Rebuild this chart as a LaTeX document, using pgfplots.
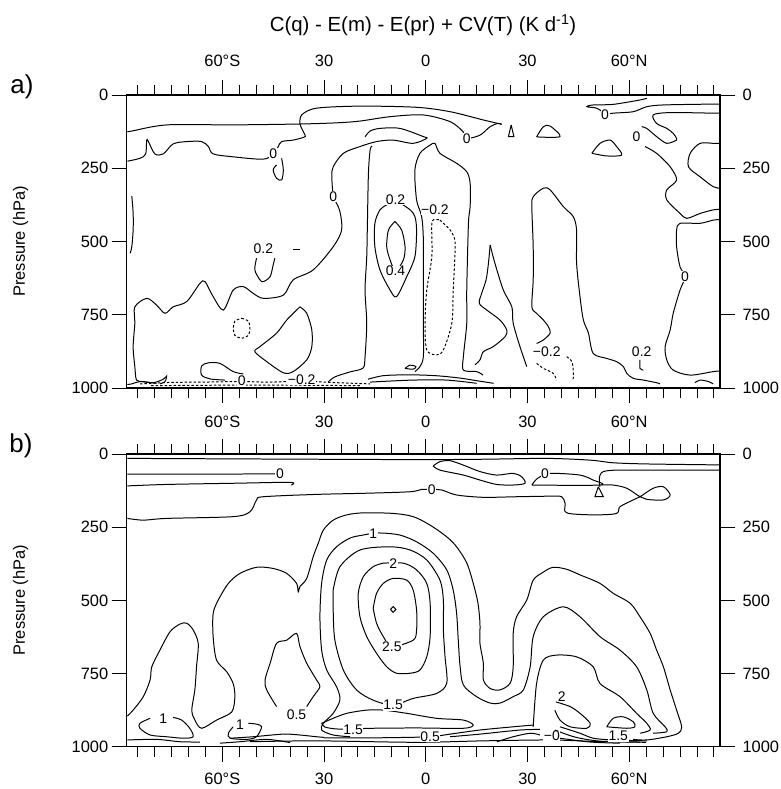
\documentclass[border=0pt]{standalone}
\usepackage{fontspec}
\setmainfont{Liberation Sans}
\usepackage{pgfplots}
\pgfplotsset{compat=1.18}
\tikzset{lab/.style={fill=white, inner sep=0.6pt, font=\fontsize{14}{14}\selectfont}}
\begin{document}
\begin{tikzpicture}
\useasboundingbox (0bp,0bp) rectangle (781bp,789bp);
\pgfplotsset{
  panel/.style={
    scale only axis, width=593.3bp, height=293bp,
    xmin=-88.2, xmax=86.8, ymin=0, ymax=1000, y dir=reverse,
    xtick={-60,-30,0,30,60}, minor xtick={-85,-80,...,85},
    ytick={0,250,500,750,1000},
    tick align=outside, major tick length=15bp, minor tick length=10bp,
    every tick/.style={black, line width=0.9pt},
    axis line style={line width=1.5pt},
    tick label style={font=\fontsize{16.5}{17}\selectfont},
    xticklabels={60°S,30,0,30,60°N},
    yticklabels={0,250,500,750,1000},
    clip=false,
  },
  cl/.style={black, line width=1pt, smooth, tension=0.5, mark=none},
  cs/.style={black, line width=1pt, sharp plot, mark=none},
  cd/.style={cl, dash pattern=on 2.5pt off 2pt},
}
\node[font=\fontsize{20.5}{21}\selectfont] at (423bp,764bp) {C(q) - E(m) - E(pr) + CV(T) (K d\textsuperscript{-1})};
\node[font=\fontsize{26}{26}\selectfont] at (22bp,702bp) {a)};
\node[font=\fontsize{26}{26}\selectfont] at (21bp,343bp) {b)};
\node[rotate=90, font=\fontsize{16.5}{17}\selectfont] at (20.5bp,547.5bp) {Pressure (hPa)};
\node[rotate=90, font=\fontsize{16.5}{17}\selectfont] at (20.5bp,188.7bp) {Pressure (hPa)};

% ---------------- panel a ----------------
\begin{axis}[panel, at={(126.7bp,401bp)}, anchor=south west,
  xticklabel pos=upper, yticklabel pos=lower, xtick pos=both, ytick pos=both,
  xticklabel style={yshift=10bp}]
\addplot[cl] coordinates {(-88,125) (-86.7,123) (-76.3,102) (-56.8,102) (-37.1,99) (-26.3,95) (-19.4,89) (-10.5,74) (-0.8,68) (7.2,91) (11,125) (12.1,148) (16,137) (19,108) (21.3,97) (22.4,100)};
\addplot[cl] coordinates {(-37.1,99) (-36.6,68) (-32.2,45) (-19.4,38) (-2.7,42) (7.2,57) (16.9,85) (22.4,100)};
\addplot[cl] coordinates {(-37.1,99) (-36.6,114) (-35.6,137) (-35.9,144) (-39.1,154) (-42.5,159) (-43.5,176) (-45,201) (-47.9,219) (-56.8,211) (-62.7,201) (-64.1,176) (-66.1,159) (-70.5,159) (-74.5,167) (-77.4,201) (-79.9,201) (-81.8,159) (-82.3,154) (-82.6,201) (-84.3,216) (-88,226)};
\addplot[cl] coordinates {(-42.5,216) (-42,256) (-42.5,290) (-44,284) (-45,256) (-44,239)};
\addplot[cl] coordinates {(65.2,11) (63.2,17) (55.3,32) (49.4,34) (47.5,40) (50.4,45) (52.4,60) (52.9,66) (55.3,62) (61.2,57) (65.2,40) (70.1,34) (84.8,31) (86.8,31)};
\addplot[cl] coordinates {(63.7,108) (65.2,114) (68.1,142) (71.1,165) (74,154)};
\addplot[cl] coordinates {(86.8,62) (84.8,62) (72.1,60) (67.1,68) (68.1,97) (71.1,114) (73,131) (74,148) (74,154)};
\addplot[cl] coordinates {(64.7,176) (68.1,199) (72.1,245) (74,290) (71.1,324) (71.1,358) (75,404) (77,421) (81,404) (84.8,392) (86.8,390)};
\addplot[cl] coordinates {(86.8,165) (84.8,165) (80.9,165) (78,199) (77.5,245) (80.9,279) (84.8,313) (86.8,318)};
\addplot[cl] coordinates {(86.8,425) (84.8,427) (80.9,438) (75,438) (74,461) (74,518) (75,586) (76.5,620) (75,666) (73,745) (72.1,802) (70.6,859) (71.1,904) (73,939) (78,956) (84.8,944) (86.8,942)};
\addplot[cs] coordinates {(25.2,102) (24.4,142) (26,142) (25.2,102)};
\addplot[cl] coordinates {(32.7,143) (34.7,108) (36.7,106) (39.6,142) (32.7,143)};
\addplot[cl] coordinates {(49,199) (51.4,165) (54.4,154) (56.3,176) (57.8,205) (53.4,208) (49,199)};
% big left zero contour
\addplot[cl] coordinates {(-79.4,984) (-83.3,978) (-85.3,973) (-85.8,927) (-86.3,859) (-85.8,779) (-85.8,723) (-82.3,694) (-79.4,717) (-76.9,745) (-74.5,723) (-70.5,705) (-66.6,643) (-65.1,637) (-62.7,688) (-59.7,734) (-56.8,666) (-53.8,654) (-50.9,677) (-47.9,694) (-42,683) (-39.1,631) (-33.2,597) (-27.3,518) (-24.8,461) (-25.3,398) (-26.8,358) (-27.3,347) (-27.7,279) (-27.3,245) (-24.3,199) (-19.4,176) (-14.5,159) (-9.6,154) (-3.7,165) (0.3,148) (-0.7,142) (-7.6,114) (-13.5,114) (-16.4,123) (-17.9,143)};
\addplot[cl] coordinates {(-15.8,174) (-16.4,188) (-16.9,267) (-17.2,438) (-17.4,552) (-17.9,666) (-17.4,779) (-17.9,893) (-18.5,932) (-22.3,945) (-26.8,962) (-28.8,980)};
\addplot[cl] coordinates {(-16.4,980) (-13.5,978) (-3.7,973) (6.2,973) (15,984)};
\addplot[cl] coordinates {(-17,970) (-12.5,958) (-5,955) (3,958) (10,966) (15,975) (20,984)};
% 0.2 / 0.4 / -0.2 centre
\addplot[cl] coordinates {(-8.9,358) (-4.6,392) (-3.2,415) (-2.7,461) (-3.2,552) (-5.6,620) (-8.6,688) (-10.5,666) (-13.5,597) (-15,518) (-15,438) (-13.5,392) (-11.5,375) (-8.9,358)};
\addplot[cl] coordinates {(-9.1,432) (-7.1,461) (-6.1,518) (-6.6,563) (-8.9,601) (-10.5,563) (-11.5,518) (-11,461) (-9.1,432)};
\addplot[cd] coordinates {(4.2,427) (7.2,461) (8.6,495) (8.6,552) (8.1,666) (7.7,779) (5.2,870) (3.2,887) (0.3,870) (-0.2,779) (0.3,666) (1.8,552) (1.8,438) (3,425) (4.2,427)};
\addplot[cl] coordinates {(-3.2,944) (-1.7,927) (-0.7,893) (-0.7,779) (-0.7,666) (-0.7,495) (-1.2,415) (-2.7,358) (-3.2,256) (-1.7,199) (1.3,171) (2.7,165) (4.2,199) (9.1,233) (12.1,262) (13.1,301) (13.1,381) (12.6,438) (12.1,666) (12.1,779) (11.1,893) (11.1,939) (15,944) (16.9,956)};
\addplot[cl] coordinates {(-6.1,933) (-4.6,922) (-2.9,927) (-3.7,936) (-6.1,933)};
\addplot[cl] coordinates {(14.5,921) (16,904) (17,876) (19.9,859) (23.4,825) (23.9,802) (21.9,768) (18,734) (15.8,711) (16.5,677) (17.8,631) (18.5,574) (19,512)};
\addplot[cl] coordinates {(19,512) (20.4,574) (22.9,666) (25.4,723) (25.8,779) (27.8,859) (29.8,927)};
\addplot[cl] coordinates {(32.7,848) (34.7,836) (36.7,813) (36.2,791) (34.7,768) (32.7,745) (31.3,723) (31.7,631) (31.7,518) (31.3,381) (31.7,347) (34.7,318) (36.7,324) (40.6,381) (43.5,415) (44.5,461) (44.5,574) (45.5,688) (46.5,768) (48,813) (49.4,882) (53.4,899) (56.3,910) (58.3,927) (59.3,950) (61.2,967) (64.2,973) (68.1,982) (69.1,986)};
\addplot[cd] coordinates {(32.7,916) (34.7,933) (37.6,950) (38.6,973)};
\addplot[cd] coordinates {(41.6,893) (43.1,910) (43.5,939) (43.5,973)};
\addplot[cl] coordinates {(63.2,904) (63.2,933) (64.2,939)};
\addplot[cl] coordinates {(79.4,982) (80.9,973) (83.4,978) (84.8,986)};
% left side
\addplot[cl] coordinates {(-86.7,345) (-86.3,403) (-86.3,461) (-86.7,518) (-87.2,540)};
\addplot[cl] coordinates {(-49.9,557) (-50.4,597) (-48.9,631) (-47.9,637) (-45.9,620) (-45,580) (-44.5,557)};
\addplot[cs] coordinates {(-39.1,529) (-37.1,529)};
\addplot[cd] coordinates {(-54.3,762) (-52.3,772) (-51.85,796) (-52.3,820) (-54.3,830) (-56.3,820) (-56.75,796) (-56.3,772) (-54.3,762)};
\addplot[cl] coordinates {(-37.1,723) (-35.1,745) (-33.6,802) (-33.6,859) (-35.1,904) (-39.1,944) (-42,948) (-46.9,910) (-50.4,876) (-48.9,859) (-44,813) (-41,768) (-37.1,723)};
\addplot[cl] coordinates {(-53.8,952) (-56.8,944) (-60.7,916) (-64.1,914) (-66.1,925) (-66.1,956) (-63.6,969) (-59.2,973)};
\addplot[cd] coordinates {(-84.3,986) (-75.4,981) (-66.6,980) (-54.3,978) (-45.9,980) (-36.6,976) (-28.2,981) (-16.4,986)};
\addplot[cd] coordinates {(-81,992) (-50,990) (-19,992)};
\addplot[cl] coordinates {(-88,988) (-86.7,986) (-84.3,978) (-80.4,982) (-77.4,970) (-76.4,959) (-76.9,978) (-78.4,986)};
% labels
\node[lab] at (axis cs:12.1,148) {0};
\node[lab] at (axis cs:-45,201) {0};
\node[lab] at (axis cs:52.9,66) {0};
\node[lab] at (axis cs:62.2,142) {0};
\node[lab] at (axis cs:76.5,620) {0};
\node[lab] at (axis cs:-27.3,347) {0};
\node[lab] at (axis cs:-8.9,358) {0.2};
\node[lab] at (axis cs:-8.9,601) {0.4};
\node[lab] at (axis cs:2.7,392) {−0.2};
\node[lab] at (axis cs:-47.9,523) {0.2};
\node[lab] at (axis cs:35.7,876) {−0.2};
\node[lab] at (axis cs:63.7,876) {0.2};
\node[lab] at (axis cs:-54.3,974) {0};
\node[lab] at (axis cs:-36.6,972) {−0.2};
\end{axis}
\begin{axis}[panel, at={(126.7bp,401bp)}, anchor=south west,
  xticklabels={}, yticklabel pos=upper, xtick pos=both, ytick pos=both,
  yticklabel style={xshift=4bp}]
\end{axis}

% ---------------- panel b ----------------
\begin{axis}[panel, height=292.7bp, at={(126.7bp,42.3bp)}, anchor=south west,
  xticklabel pos=upper, yticklabel pos=lower, xtick pos=both, ytick pos=both,
  xticklabel style={yshift=8bp}]
\addplot[cl] coordinates {(-88,15) (-7.6,19) (16,18) (35.7,15) (48.5,21) (55.3,30) (65.2,34) (84.8,37) (86.8,37)};
\addplot[cl] coordinates {(86.8,55) (84.8,55) (65.2,55) (52.4,60) (51.4,112)};
\addplot[cs] coordinates {(50.9,112) (49.9,146) (52.4,146) (50.9,112)};
\addplot[cl] coordinates {(-88,69) (-66.6,69) (-46.9,68) (-43,69)};
\addplot[cl] coordinates {(-88,109) (-76.4,104) (-56.8,100) (-40,97) (-39.7,106)};
\addplot[cl] coordinates {(-88,220) (-83.3,226) (-76.4,220) (-56.8,214) (-51.8,197) (-49.9,157) (-47.9,146) (-32.2,138) (-17.4,134) (-4.6,129) (-1.2,121) (1.8,121) (4.7,123) (9.1,140) (17,148) (26.8,146) (37.6,144) (40.1,146) (41.1,168) (41.1,197) (43.5,205) (50.4,208) (56.3,203) (57.3,180) (61.2,157) (63.2,146) (67.1,117) (70.1,112) (72.1,140) (70.1,157) (65.2,155) (63.2,146) (59.3,117) (55.3,106) (51.9,106)};
\addplot[cl] coordinates {(2.2,41) (4.2,26) (7.2,23) (11.1,38) (16,60) (20.9,72) (25.8,66) (28.3,78) (29.3,100) (25.8,106) (20.9,104) (16,89) (11.1,72) (4.2,55) (2.2,41)};
\addplot[cl] coordinates {(31.3,106) (32.7,86) (35.2,69) (38.1,66) (45.5,72) (49.4,89) (51.4,106) (31.3,106)};
% 0.5 outer
\addplot[cl] coordinates {(-88,895) (-86.3,875) (-83.3,829) (-81.3,772) (-80.8,727) (-78.4,670) (-75.4,607) (-72.5,581) (-70.5,578) (-68.6,601) (-67.1,647) (-67.6,727) (-68.1,806) (-69,875) (-68.1,909) (-66.1,937) (-61.7,909) (-57.2,881) (-56.3,829) (-56.8,784) (-58.7,744) (-61.7,704) (-62.7,624) (-62.7,545) (-61.2,499) (-58.2,442) (-54.8,408) (-49.9,387) (-45,391) (-41,408) (-38.1,442) (-37.6,471) (-37.1,453) (-35.1,425) (-33.2,351) (-31.7,305) (-30.2,260) (-27.3,226) (-23.3,208) (-18.4,201) (-9.6,203) (-3.7,214) (1.3,243) (6.2,283) (9.1,317) (12.1,372) (14,441) (15.4,509) (16,578) (16,647) (17,715) (17,772) (19,801) (21.9,806) (24.9,783) (25.8,727) (25.8,613) (26.8,556) (29.8,499) (31.7,431) (34.5,405) (37.6,387) (41.6,394) (45.5,413) (51.4,442) (55.3,476) (60.3,510) (63.2,556) (66.2,613) (68.1,670) (70.1,727) (72.1,806) (74,875) (75.5,932) (74.5,954) (71.1,966) (65.2,977) (61.2,975)};
% 1
\addplot[cl] coordinates {(-22.3,966) (-27.3,960) (-30.7,943) (-30.2,920) (-27.3,886) (-25.3,840) (-26.3,795) (-29.2,738) (-30.7,670) (-31.2,556) (-30.7,441) (-29.2,362) (-26.3,317) (-22.3,287) (-18.5,277) (-15.5,271) (-12.6,270) (-7.6,277) (-2.7,300) (2.2,339) (6.2,396) (8.1,465) (9.1,543) (9.6,636) (10.1,721) (11.1,789) (15,829) (19,851) (21.9,851) (25.8,829) (28.8,806) (30.8,727) (31.7,624) (34.7,556) (40.6,522) (45.5,556) (51.4,624) (57.3,670) (62.2,727) (65.2,806) (67.1,886) (70.6,932) (71.1,949) (67.1,954)};
% 1.5 central
\addplot[cl] coordinates {(-27.3,465) (-25.3,385) (-19.4,328) (-10.5,317) (-4.6,328) (0.3,362) (4.2,431) (5.2,499) (5.2,601) (5.7,693) (6.2,783) (3.2,818) (-3.7,835) (-9.6,858) (-15.5,841) (-20.4,806) (-24.3,738) (-26.8,636) (-27.3,533) (-27.3,465)};
% 2
\addplot[cl] coordinates {(-12.6,373) (-6.6,373) (-2.7,396) (0.3,442) (1.3,510) (1.3,624) (0.3,693) (-1.7,738) (-4.6,749) (-8.6,749) (-11.5,727) (-14.5,681) (-17.4,624) (-19.4,556) (-19.9,476) (-18.4,419) (-15.5,385) (-12.6,373)};
% 2.5
\addplot[cl] coordinates {(-15.5,527) (-14.5,476) (-12.5,442) (-9.6,425) (-5.6,431) (-3.7,465) (-2.7,533) (-2.7,601) (-3.7,636) (-10,658) (-12.5,624) (-14.5,578) (-15.5,527)};
\addplot[cs] coordinates {(-10.4,531) (-9.6,521) (-8.8,531) (-9.6,541) (-10.4,531)};
% bottom 1.5 loop
\addplot[cl] coordinates {(-30.7,920) (-27.3,903) (-23.3,886) (-17.4,875) (-12.5,875) (-5.6,886) (3.2,903) (11.1,909) (14,926) (11.1,937) (-2.7,936) (-15.5,937) (-25.3,940) (-29.7,933) (-30.7,920)};
% right lobe
\addplot[cl] coordinates {(31.7,932) (32.7,784) (34.7,704) (38.6,687) (44.5,693) (49.4,727) (51.4,784) (57.3,829) (62.2,886) (65.2,920) (66.2,943) (63.2,954)};
\addplot[cl] coordinates {(38.4,847) (42.6,863) (45.5,886) (48.5,920) (47.5,937) (42.6,932) (39.6,909) (38.1,875)};
\addplot[cl] coordinates {(53.4,932) (55.3,903) (58.3,898) (61.2,915) (61.7,932) (59.3,937) (53.4,932)};
% left bottom
\addplot[cl] coordinates {(-81.3,903) (-84.3,920) (-84.3,937) (-81.3,960) (-76.4,966) (-71.5,971) (-68.6,966) (-69.6,937) (-72,909) (-74.5,900)};
\addplot[cl] coordinates {(-56.8,932) (-58.2,954) (-57.7,971) (-52.8,975) (-49.9,966) (-48.4,932) (-49.9,923) (-52.3,920)};
\addplot[cl] coordinates {(-35.1,863) (-33.2,829) (-31.2,795) (-32.2,772) (-35.1,715) (-37.1,658) (-38.1,613) (-41,636) (-44,647) (-45.9,715) (-47.4,772) (-46.9,806) (-44,863)};
% near surface
\addplot[cl] coordinates {(-88,977) (-79.4,975) (-72.5,983) (-66.6,984)};
\addplot[cl] coordinates {(-60.7,988) (-54.8,983) (-46.9,975) (-40,986)};
\addplot[cl] coordinates {(-57.7,971) (-50.9,966) (-42,957) (-37.1,960) (-32.2,966) (-30,968)};
\addplot[cl] coordinates {(-30,970) (-20,970) (-10,969) (1.3,966) (7.2,957) (16,943) (25.8,932) (31.7,926)};
\addplot[cl] coordinates {(7.2,966) (16,957) (27.8,943) (33.7,941)};
\addplot[cl] coordinates {(-51.9,983) (-32.2,980) (-2.7,985) (17,980) (36.7,977) (50,982) (65,985)};
\addplot[cl] coordinates {(21,983) (25.8,966) (30.8,954) (33.7,960)};
\addplot[cl] coordinates {(39.6,932) (45.5,954) (49.4,971) (55.3,977) (65.2,980)};
\addplot[cl] coordinates {(38.1,943) (44,967) (51.4,981) (63.2,984)};
\addplot[cl] coordinates {(39.6,971) (48.5,984) (57.3,988)};
% labels
\node[lab] at (axis cs:-43,69) {0};
\node[lab] at (axis cs:1.8,121) {0};
\node[lab] at (axis cs:35.2,69) {0};
\node[lab] at (axis cs:-15.5,271) {1};
\node[lab] at (axis cs:-9.6,373) {2};
\node[lab] at (axis cs:-10,658) {2.5};
\node[lab] at (axis cs:-9.6,858) {1.5};
\node[lab] at (axis cs:-21.4,943) {1.5};
\node[lab] at (axis cs:1.3,966) {0.5};
\node[lab] at (axis cs:-38.1,892) {0.5};
\node[lab] at (axis cs:-77.4,903) {1};
\node[lab] at (axis cs:-54.8,926) {1};
\node[lab] at (axis cs:40.1,829) {2};
\node[lab] at (axis cs:56.8,964) {1.5};
\node[lab] at (axis cs:37.2,964) {−0};
\end{axis}
\begin{axis}[panel, height=292.7bp, at={(126.7bp,42.3bp)}, anchor=south west,
  xticklabel pos=lower, yticklabel pos=upper, xtick pos=both, ytick pos=both,
  xticklabel style={yshift=-8bp}, yticklabel style={xshift=4bp}]
\end{axis}
\end{tikzpicture}
\end{document}
